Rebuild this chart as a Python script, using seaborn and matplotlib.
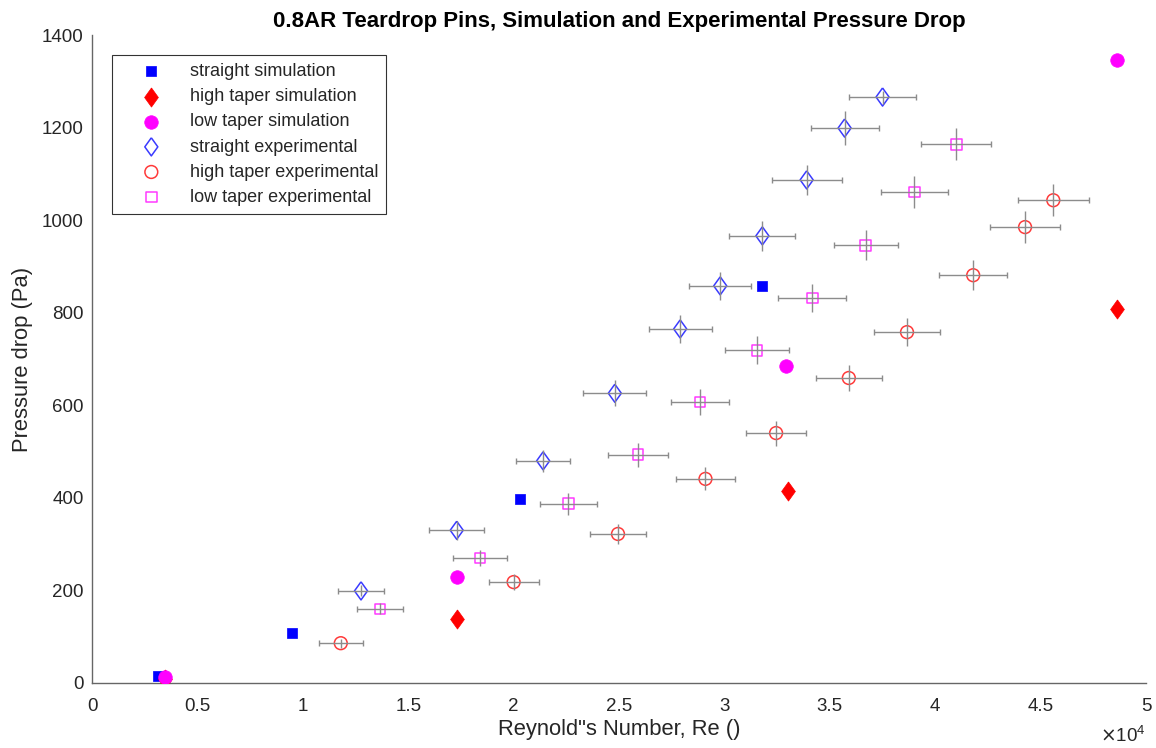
import numpy as np
import pandas as pd
import seaborn as sns
import matplotlib.pyplot as plt
from matplotlib.ticker import FuncFormatter, MultipleLocator

# simulation data
re_straight_sim = [3130, 9490, 20300, 31800]
dp_straight_sim = [15, 107, 397, 858]
re_high_sim = [3460, 17300, 33000, 48600]
dp_high_sim = [8, 138, 415, 808]
re_low_sim = [3460, 17300, 32900, 48600]
dp_low_sim = [13, 229, 685, 1346]

# experimental data (with error bars)
re_straight_exp = [12760, 17300, 21400, 24800, 27900, 29800, 31800, 33900, 35700, 37500]
dp_straight_exp = [199, 330, 480, 626, 765, 858, 966, 1087, 1199, 1266]
xerr_straight_exp = [1110, 1300, 1280, 1490, 1490, 1470, 1570, 1660, 1610, 1590]
yerr_straight_exp = [12, 20, 24, 28, 30, 30, 32, 33, 36, 14]

re_high_exp = [11800, 20000, 24950, 29100, 32450, 35900, 38660, 41800, 44260, 45600]
dp_high_exp = [86, 218, 322, 441, 540, 659, 758, 881, 985, 1043]
xerr_high_exp = [1040, 1190, 1350, 1420, 1420, 1570, 1570, 1610, 1660, 1680]
yerr_high_exp = [10, 18, 22, 25, 27, 28, 30, 32, 34, 35]

re_low_exp = [13660, 18400, 22600, 25900, 28840, 31550, 34160, 36700, 39000, 41000]
dp_low_exp = [160, 270, 387, 493, 607, 719, 832, 946, 1061, 1164]
xerr_low_exp = [1110, 1280, 1350, 1420, 1380, 1520, 1610, 1520, 1590, 1660]
yerr_low_exp = [12, 18, 24, 26, 28, 30, 30, 32, 34, 35]

sns.set_style("white")
plt.rcParams["font.family"] = ["Liberation Sans", "DejaVu Sans"]
txt = "#262626"

fig = plt.figure(figsize=(11.56, 7.48), dpi=100)
ax = fig.add_axes([0.0796, 0.0869, 0.9118, 0.8663])

# matlab-ish tall diamond
tall_d = [(0, 1), (0.72, 0), (0, -1), (-0.72, 0), (0, 1)]

# error bars first (grey) - small caps on horizontal bars only
for xs, ys, xe, ye in [(re_straight_exp, dp_straight_exp, xerr_straight_exp, yerr_straight_exp),
                       (re_high_exp, dp_high_exp, xerr_high_exp, yerr_high_exp),
                       (re_low_exp, dp_low_exp, xerr_low_exp, yerr_low_exp)]:
    ax.errorbar(xs, ys, xerr=xe, fmt="none", ecolor="#8c8c8c",
                elinewidth=1, capsize=2, capthick=1, label="_nolegend_", zorder=3)
    ax.errorbar(xs, ys, yerr=ye, fmt="none", ecolor="#8c8c8c",
                elinewidth=1, capsize=0, label="_nolegend_", zorder=3)

sns.scatterplot(x=re_straight_sim, y=dp_straight_sim, marker="s", s=60, color="#0000ff",
                edgecolor="#0000ff", linewidth=0.5, label="straight simulation", ax=ax, zorder=4)
sns.scatterplot(x=re_high_sim, y=dp_high_sim, marker=tall_d, s=190, color="#ff0000",
                edgecolor="#ff0000", linewidth=0.5, label="high taper simulation", ax=ax, zorder=4)
sns.scatterplot(x=re_low_sim, y=dp_low_sim, marker="o", s=95, color="#ff00ff",
                edgecolor="#ff00ff", linewidth=0.5, label="low taper simulation", ax=ax, zorder=4)
sns.scatterplot(x=re_straight_exp, y=dp_straight_exp, marker=tall_d, s=170, facecolor="none",
                edgecolor="#3a3aff", linewidth=1.1, label="straight experimental", ax=ax, zorder=2)
sns.scatterplot(x=re_high_exp, y=dp_high_exp, marker="o", s=85, facecolor="none",
                edgecolor="#ff3a3a", linewidth=1.1, label="high taper experimental", ax=ax, zorder=2)
sns.scatterplot(x=re_low_exp, y=dp_low_exp, marker="s", s=60, facecolor="none",
                edgecolor="#ff3aff", linewidth=1.1, label="low taper experimental", ax=ax, zorder=2)

ax.set_xlim(0, 50000)
ax.set_ylim(0, 1400)
ax.xaxis.set_major_locator(MultipleLocator(5000))
ax.yaxis.set_major_locator(MultipleLocator(200))
ax.xaxis.set_major_formatter(FuncFormatter(lambda v, p: f"{v/1e4:g}"))
ax.text(1.0, -0.082, r"$\times\mathregular{10^4}$", transform=ax.transAxes,
        ha="right", va="center", fontsize=13.5, color=txt)

sns.despine(ax=ax)
for sp in ["left", "bottom"]:
    ax.spines[sp].set_color("#666666")
    ax.spines[sp].set_linewidth(1.0)
ax.tick_params(direction="in", length=6, width=1, color="#444444", labelcolor=txt,
               labelsize=13.5)
ax.tick_params(axis="x", pad=11)
ax.tick_params(axis="y", pad=6)

ax.set_title("0.8AR Teardrop Pins, Simulation and Experimental Pressure Drop",
             fontsize=16, fontweight="bold", color="black", pad=6)
ax.set_xlabel('Reynold"s Number, Re ()', fontsize=15.8, color=txt, labelpad=3)
ax.set_ylabel("Pressure drop (Pa)", fontsize=15.8, color=txt, labelpad=6)

leg = ax.legend(loc="upper left", bbox_to_anchor=(0.019, 0.969), borderaxespad=0,
                fontsize=13, frameon=True, fancybox=False, edgecolor="black",
                handlelength=3.45, handletextpad=0.4, labelspacing=0.45, borderpad=0.45,
                scatterpoints=1)
leg.get_frame().set_linewidth(0.8)
for t in leg.get_texts():
    t.set_color(txt)

plt.savefig("out.png", dpi=100)
